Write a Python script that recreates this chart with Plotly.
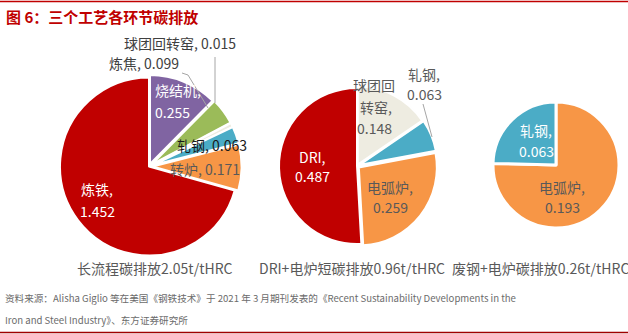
import plotly.graph_objects as go

W, H = 628, 334

# ---- data ----
p1_labels = ["烧结机", "炼焦", "球团回转窑", "轧钢", "转炉", "炼铁"]
p1_values = [0.255, 0.099, 0.015, 0.063, 0.171, 1.452]
p2_labels = ["球团回转窑", "轧钢", "电弧炉", "DRI"]
p2_values = [0.148, 0.063, 0.259, 0.487]
p3_labels = ["电弧炉", "轧钢"]
p3_values = [0.193, 0.063]
captions = ["长流程碳排放2.05t/tHRC", "DRI+电炉短碳排放0.96t/tHRC", "废钢+电炉碳排放0.26t/tHRC"]
title = "图 6：三个工艺各环节碳排放"
source1 = "资料来源：Alisha Giglio 等在美国《钢铁技术》于 2021 年 3 月期刊发表的《Recent Sustainability Developments in the"
source2 = "Iron and Steel Industry》、东方证券研究所"

C = {"烧结机": "#8064A2", "炼焦": "#9BBB59", "球团回转窑": "#EEECE1", "轧钢": "#4BACC6",
     "转炉": "#F79646", "炼铁": "#C00000", "电弧炉": "#F79646", "DRI": "#C00000"}

FONT = "Noto Sans CJK SC, Noto Sans, sans-serif"


def dom(cx, cy, r, pull):
    h = r * (1 + pull)
    return dict(x=[(cx - h) / W, (cx + h) / W], y=[1 - (cy + h) / H, 1 - (cy - h) / H])


def px(x, y):
    return x / W, 1 - y / H


fig = go.Figure()
pulls1 = [0.03, 0.04, 0.04, 0.04, 0.04, 0]
pulls2 = [0.02, 0.03, 0.03, 0]
for labels, values, pulls, (cx, cy, r), lw in [
    (p1_labels, p1_values, pulls1, (149, 166.5, 89), 2),
    (p2_labels, p2_values, pulls2, (357, 166, 78), 2),
    (p3_labels, p3_values, [0, 0], (556, 165, 63), 3),
]:
    fig.add_trace(go.Pie(
        labels=labels, values=values, sort=False, direction="clockwise", rotation=0,
        marker=dict(colors=[C[l] for l in labels], line=dict(color="white", width=lw)),
        pull=pulls, textinfo="none", hoverinfo="label+value", showlegend=False,
        domain=dom(cx, cy, r, max(pulls)),
    ))

ann = []


def label(x, y, text, color="#595959", size=14, xanchor="center", family=FONT):
    xx, yy = px(x, y)
    ann.append(dict(x=xx, y=yy, xref="paper", yref="paper", text=text, showarrow=False,
                    xanchor=xanchor, yanchor="middle",
                    font=dict(family=family, size=size, color=color)))


def two(lbl, v):
    return f"{lbl},", f"{v}"


# pie 1 labels
v1 = dict(zip(p1_labels, p1_values))
label(180, 43, f"球团回转窑, {v1['球团回转窑']}", "#404040")
label(144, 63, f"炼焦, {v1['炼焦']}", "#404040")
a, b = two("烧结机", v1["烧结机"])
label(153, 90, a, "white", xanchor="left")
label(153, 112, b, "white", xanchor="left")
label(212, 145, f"轧钢, {v1['轧钢']}", "#1a1a1a")
label(205, 169, f"转炉, {v1['转炉']}", "#595959")
a, b = two("炼铁", v1["炼铁"])
label(97, 189, a, "white")
label(97, 211, b, "white")

# pie 2 labels
v2 = dict(zip(p2_labels, p2_values))
label(374, 85, "球团回", "#595959")
label(376, 107, "转窑,", "#595959")
label(374, 128, f"{v2['球团回转窑']}", "#595959")
a, b = two("轧钢", v2["轧钢"])
label(424, 74, a, "#595959")
label(424, 94, b, "#595959")
a, b = two("电弧炉", v2["电弧炉"])
label(390, 187, a, "#595959")
label(390, 207, b, "#595959")
a, b = two("DRI", v2["DRI"])
label(312, 157, a, "white")
label(312, 176, b, "white")

# pie 3 labels
v3 = dict(zip(p3_labels, p3_values))
a, b = two("轧钢", v3["轧钢"])
label(536, 130, a, "white")
label(536, 151, b, "white")
a, b = two("电弧炉", v3["电弧炉"])
label(562, 187, a, "#595959")
label(562, 207, b, "#595959")

# captions
for x, t in zip([155, 352, 540], captions):
    label(x, 268, t, "#595959", size=14)

# title and source
label(4, 16, f"<b>{title}</b>", "#C00000", size=15, xanchor="left")
label(3, 298, source1, "#6b6b6b", size=9.6, xanchor="left")
label(3, 320, source2, "#6b6b6b", size=9.6, xanchor="left")

shapes = []


def line(x0, y0, x1, y1, color="#A6A6A6", width=1):
    a0, b0 = px(x0, y0)
    a1, b1 = px(x1, y1)
    shapes.append(dict(type="line", xref="paper", yref="paper", x0=a0, y0=b0, x1=a1, y1=b1,
                       line=dict(color=color, width=width)))


line(0, 1.5, W, 1.5, "#C00000", 1.5)
line(0, 332.5, W, 332.5, "#A00000", 1.5)
# leader lines
line(215, 57, 215, 103)
line(182, 73, 188, 75)
line(188, 75, 208, 108)
line(423, 104, 432, 137)

fig.update_layout(width=W, height=H, margin=dict(l=0, r=0, t=0, b=0),
                  paper_bgcolor="white", plot_bgcolor="white",
                  annotations=ann, shapes=shapes)
fig.write_html("out.html")
